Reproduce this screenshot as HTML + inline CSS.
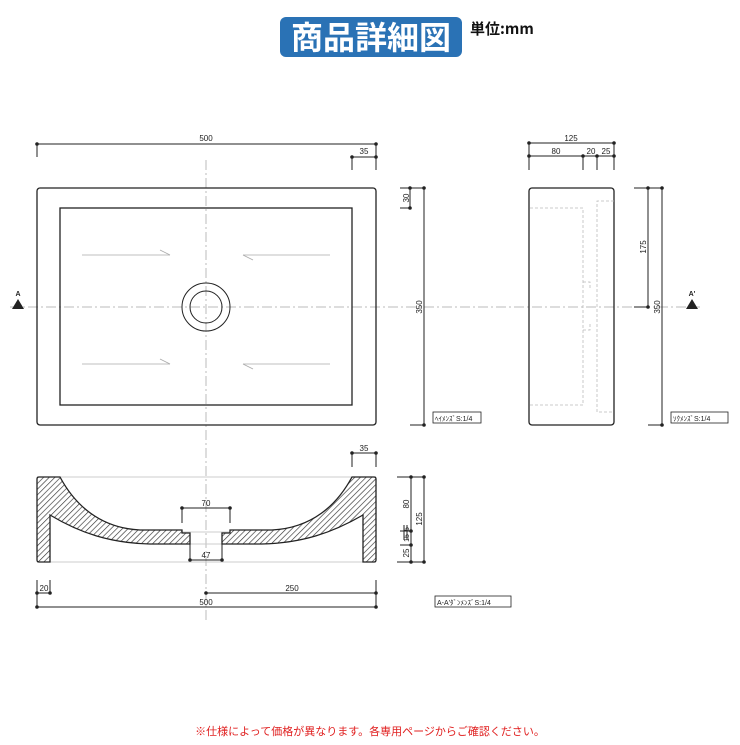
<!DOCTYPE html>
<html><head><meta charset="utf-8"><style>
body{margin:0;background:#fff;width:740px;height:740px;overflow:hidden}
svg text{font-family:"Liberation Sans","Noto Sans CJK JP",sans-serif}
</style></head><body>
<svg width="740" height="740" viewBox="0 0 740 740" xmlns="http://www.w3.org/2000/svg">
<defs>
<pattern id="h" patternUnits="userSpaceOnUse" width="4" height="4" patternTransform="rotate(45)">
<rect width="4" height="4" fill="#fff"/><line x1="0" y1="0" x2="0" y2="4" stroke="#333" stroke-width="1.3"/>
</pattern>
</defs>
<!-- Banner -->
<rect x="280" y="17" width="182" height="40" rx="6" fill="#2a72b5"/>
<text x="371" y="49" font-size="32" font-weight="bold" fill="#fff" text-anchor="middle" style="font-family:'Noto Sans CJK JP',sans-serif">商品詳細図</text>
<text x="470" y="34" font-size="15" fill="#111" style="font-family:'Noto Sans CJK JP',sans-serif" font-weight="bold">単位:mm</text>

<g stroke="#222" fill="none" stroke-width="1">
<!-- centerlines -->
<line x1="206" y1="160" x2="206" y2="620" stroke="#bbb" stroke-dasharray="10,3,2,3"/>
<line x1="10" y1="307" x2="700" y2="307" stroke="#bbb" stroke-dasharray="10,3,2,3"/>
<!-- top view -->
<rect x="37" y="188" width="339" height="237" rx="3" stroke-width="1.3"/>
<rect x="60" y="208" width="292" height="197" stroke-width="1.3"/>
<circle cx="206" cy="307" r="24"/><circle cx="206" cy="307" r="16"/>
<g stroke="#aaa" stroke-width="0.8">
<line x1="82" y1="255" x2="170" y2="255"/><line x1="160" y1="250" x2="170" y2="255"/>
<line x1="82" y1="364" x2="170" y2="364"/><line x1="160" y1="359" x2="170" y2="364"/>
<line x1="243" y1="255" x2="330" y2="255"/><line x1="243" y1="255" x2="253" y2="260"/>
<line x1="243" y1="364" x2="330" y2="364"/><line x1="243" y1="364" x2="253" y2="369"/>
</g>
<!-- top dims -->
<line x1="37" y1="144" x2="376" y2="144"/><line x1="37" y1="144" x2="37" y2="157"/><line x1="376" y1="144" x2="376" y2="170"/>
<line x1="352" y1="157" x2="376" y2="157"/><line x1="352" y1="157" x2="352" y2="170"/>
<line x1="400" y1="188" x2="424" y2="188"/><line x1="400" y1="208" x2="410" y2="208"/><line x1="410" y1="188" x2="410" y2="208"/>
<line x1="424" y1="188" x2="424" y2="425"/><line x1="410" y1="425" x2="424" y2="425"/>
<!-- side view -->
<rect x="529" y="188" width="85" height="237" rx="3" stroke-width="1.3"/>
<g stroke="#bbb" stroke-dasharray="3,2" stroke-width="0.8">
<polyline points="530,208 583,208 583,405 530,405"/>
<polyline points="614,201 597,201 597,412 614,412"/>
<polyline points="583,282 590,282 590,290"/><polyline points="583,330 590,330 590,322"/>
</g>
<line x1="529" y1="143" x2="614" y2="143"/><line x1="529" y1="156" x2="614" y2="156"/>
<line x1="529" y1="143" x2="529" y2="170"/><line x1="614" y1="143" x2="614" y2="170"/>
<line x1="583" y1="156" x2="583" y2="170"/><line x1="597" y1="156" x2="597" y2="170"/>
<line x1="634" y1="188" x2="662" y2="188"/><line x1="648" y1="188" x2="648" y2="307"/><line x1="634" y1="307" x2="648" y2="307"/>
<line x1="662" y1="188" x2="662" y2="425"/><line x1="648" y1="425" x2="662" y2="425"/>
<!-- section -->
<line x1="37" y1="477" x2="376" y2="477" stroke="#ccc"/>
<line x1="37" y1="562" x2="376" y2="562" stroke="#ccc"/>
<line x1="182" y1="532" x2="230" y2="532" stroke="#ccc"/><line x1="190" y1="544" x2="222" y2="544" stroke="#ccc"/>
<path d="M39,477 L60,477 C75,505 100,528 140,530 L182,530 L182,533 L190,533 L190,544 L150,544 C110,543 80,533 50,515 L50,562 L39,562 Q37,562 37,560 L37,479 Q37,477 39,477 Z" fill="url(#h)" stroke-width="1.3"/>
<path d="M374,477 L352,477 C337,505 312,528 272,530 L230,530 L230,533 L222,533 L222,544 L262,544 C302,543 332,533 363,515 L363,562 L374,562 Q376,562 376,560 L376,479 Q376,477 374,477 Z" fill="url(#h)" stroke-width="1.3"/>
<line x1="352" y1="453" x2="376" y2="453"/><line x1="352" y1="453" x2="352" y2="467"/><line x1="376" y1="453" x2="376" y2="467"/>
<line x1="182" y1="508" x2="230" y2="508"/><line x1="182" y1="508" x2="182" y2="523"/><line x1="230" y1="508" x2="230" y2="523"/>
<line x1="190" y1="560" x2="222" y2="560"/><line x1="190" y1="544" x2="190" y2="560"/><line x1="222" y1="544" x2="222" y2="560"/>
<line x1="37" y1="593" x2="50" y2="593"/><line x1="37" y1="580" x2="37" y2="607"/><line x1="50" y1="580" x2="50" y2="593"/>
<line x1="206" y1="593" x2="376" y2="593"/><line x1="376" y1="580" x2="376" y2="607"/>
<line x1="37" y1="607" x2="376" y2="607"/>
<line x1="397" y1="477" x2="424" y2="477"/><line x1="411" y1="477" x2="411" y2="562"/><line x1="397" y1="562" x2="424" y2="562"/>
<line x1="424" y1="477" x2="424" y2="562"/>
<line x1="400" y1="531" x2="411" y2="531"/><line x1="400" y1="545" x2="411" y2="545"/>
<line x1="404" y1="525" x2="404" y2="540"/><line x1="407" y1="525" x2="407" y2="540"/>
</g>
<g fill="#222">
<circle cx="37" cy="144" r="1.8"/><circle cx="376" cy="144" r="1.8"/><circle cx="352" cy="157" r="1.8"/><circle cx="376" cy="157" r="1.8"/>
<circle cx="410" cy="188" r="1.8"/><circle cx="410" cy="208" r="1.8"/><circle cx="424" cy="188" r="1.8"/><circle cx="424" cy="425" r="1.8"/>
<circle cx="529" cy="143" r="1.8"/><circle cx="614" cy="143" r="1.8"/><circle cx="529" cy="156" r="1.8"/><circle cx="583" cy="156" r="1.8"/><circle cx="597" cy="156" r="1.8"/><circle cx="614" cy="156" r="1.8"/>
<circle cx="648" cy="188" r="1.8"/><circle cx="648" cy="307" r="1.8"/><circle cx="662" cy="188" r="1.8"/><circle cx="662" cy="425" r="1.8"/>
<circle cx="352" cy="453" r="1.8"/><circle cx="376" cy="453" r="1.8"/><circle cx="182" cy="508" r="1.8"/><circle cx="230" cy="508" r="1.8"/>
<circle cx="190" cy="560" r="1.8"/><circle cx="222" cy="560" r="1.8"/>
<circle cx="37" cy="593" r="1.8"/><circle cx="50" cy="593" r="1.8"/><circle cx="206" cy="593" r="1.8"/><circle cx="376" cy="593" r="1.8"/>
<circle cx="37" cy="607" r="1.8"/><circle cx="376" cy="607" r="1.8"/>
<circle cx="411" cy="477" r="1.8"/><circle cx="411" cy="531" r="1.8"/><circle cx="411" cy="545" r="1.8"/><circle cx="411" cy="562" r="1.8"/>
<circle cx="424" cy="477" r="1.8"/><circle cx="424" cy="562" r="1.8"/>
<polygon points="12,309 24,309 18,299"/><polygon points="686,309 698,309 692,299"/>
</g>
<g font-size="8" fill="#222">
<text x="206" y="141" text-anchor="middle">500</text>
<text x="364" y="154" text-anchor="middle">35</text>
<text x="18" y="296" text-anchor="middle" font-size="7" font-weight="bold">A</text>
<text x="692" y="296" text-anchor="middle" font-size="7" font-weight="bold">A'</text>
<text transform="translate(409,198) rotate(-90)" text-anchor="middle">30</text>
<text transform="translate(422,307) rotate(-90)" text-anchor="middle">350</text>
<text x="571" y="141" text-anchor="middle">125</text>
<text x="556" y="154" text-anchor="middle">80</text>
<text x="591" y="154" text-anchor="middle">20</text>
<text x="606" y="154" text-anchor="middle">25</text>
<text transform="translate(646,247) rotate(-90)" text-anchor="middle">175</text>
<text transform="translate(660,307) rotate(-90)" text-anchor="middle">350</text>
<text x="364" y="451" text-anchor="middle">35</text>
<text x="206" y="506" text-anchor="middle">70</text>
<text x="206" y="558" text-anchor="middle">47</text>
<text x="44" y="591" text-anchor="middle">20</text>
<text x="292" y="591" text-anchor="middle">250</text>
<text x="206" y="605" text-anchor="middle">500</text>
<text transform="translate(409,504) rotate(-90)" text-anchor="middle">80</text>
<text transform="translate(422,519) rotate(-90)" text-anchor="middle">125</text>
<text transform="translate(409,529) rotate(-90)" text-anchor="middle" font-size="7">5</text>
<text transform="translate(409,538) rotate(-90)" text-anchor="middle" font-size="7">15</text>
<text transform="translate(409,553) rotate(-90)" text-anchor="middle">25</text>
</g>
<g font-size="7" fill="#222" style="font-family:'Noto Sans CJK JP',sans-serif">
<rect x="433" y="412" width="48" height="11" fill="none" stroke="#222" stroke-width="0.8"/>
<text x="435" y="421">ﾍｲﾒﾝｽﾞS:1/4</text>
<rect x="671" y="412" width="57" height="11" fill="none" stroke="#222" stroke-width="0.8"/>
<text x="673" y="421">ｿｸﾒﾝｽﾞS:1/4</text>
<rect x="435" y="596" width="76" height="11" fill="none" stroke="#222" stroke-width="0.8"/>
<text x="437" y="605">A-A'ﾀﾞﾝﾒﾝｽﾞS:1/4</text>
</g>
<text x="370" y="735" font-size="11" fill="#e02020" text-anchor="middle" style="font-family:'Noto Sans CJK JP',sans-serif">※仕様によって価格が異なります。各専用ページからご確認ください。</text>
</svg>
</body></html>
